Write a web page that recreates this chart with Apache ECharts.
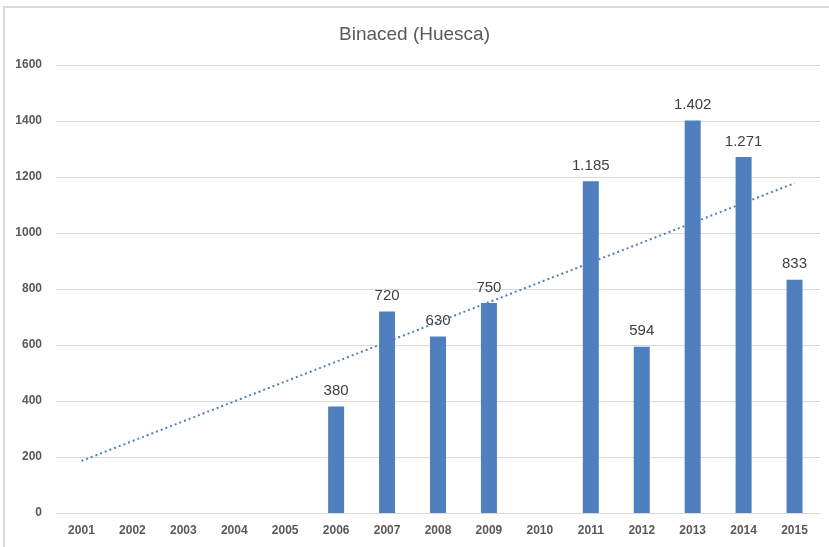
<!DOCTYPE html>
<html><head><meta charset="utf-8">
<script src="https://cdn.jsdelivr.net/npm/echarts@6/dist/echarts.min.js"></script>
<style>html,body{margin:0;padding:0;background:#fff}#c{width:829px;height:547px}</style>
</head><body><div id="c"></div>
<script>
const titleText = 'Binaced (Huesca)';
const years = ['2001','2002','2003','2004','2005','2006','2007','2008','2009','2010','2011','2012','2013','2014','2015'];
const values = [null,null,null,null,null,380,720,630,750,null,1185,594,1402,1271,833];
const trend = [186,null,null,null,null,null,null,null,null,null,null,null,null,null,1178];
const yTicks = [0,200,400,600,800,1000,1200,1400,1600];

const fmt = v => v == null ? '' : String(v).replace(/\B(?=(\d{3})+(?!\d))/g, '.');
const chart = echarts.init(document.getElementById('c'));
chart.setOption({
  animation: false,
  backgroundColor: '#fff',
  graphic: [{type:'rect', shape:{x:4, y:7, width:900, height:700}, style:{fill:'none', stroke:'#d9d9d9', lineWidth:2}, silent:true}],
  title: {text: titleText, left: 'center', top: 20, textStyle:{fontFamily:'Liberation Sans', fontSize:19, fontWeight:'normal', color:'#595959'}},
  grid: {left: 56, right: 9, top: 65, bottom: 34},
  xAxis: {type:'category', data: years,
    axisLine:{show:true, lineStyle:{color:'#d9d9d9', width:1}}, axisTick:{show:false},
    axisLabel:{fontFamily:'Liberation Sans', fontWeight:'bold', fontSize:12, color:'#595959', margin:12}},
  yAxis: {type:'value', min: yTicks[0], max: yTicks[yTicks.length-1], interval: 200,
    splitLine:{lineStyle:{color:'#d9d9d9', width:1}}, axisLine:{show:false}, axisTick:{show:false},
    axisLabel:{fontFamily:'Liberation Sans', fontWeight:'bold', fontSize:12, color:'#595959', margin:14, formatter: v => String(v)}},
  series: [
    {type:'bar', data: values, barWidth: 16, itemStyle:{color:'#4f7fbf'},
     label:{show:true, position:'top', distance:8, formatter: p => fmt(p.value), fontFamily:'Liberation Sans', fontSize:15, color:'#404040'}},
    {type:'line', data: trend, connectNulls:true, symbol:'none', z:5,
     lineStyle:{color:'#4f7fbf', width:2, type:[2,3]}}
  ]
});
</script></body></html>
